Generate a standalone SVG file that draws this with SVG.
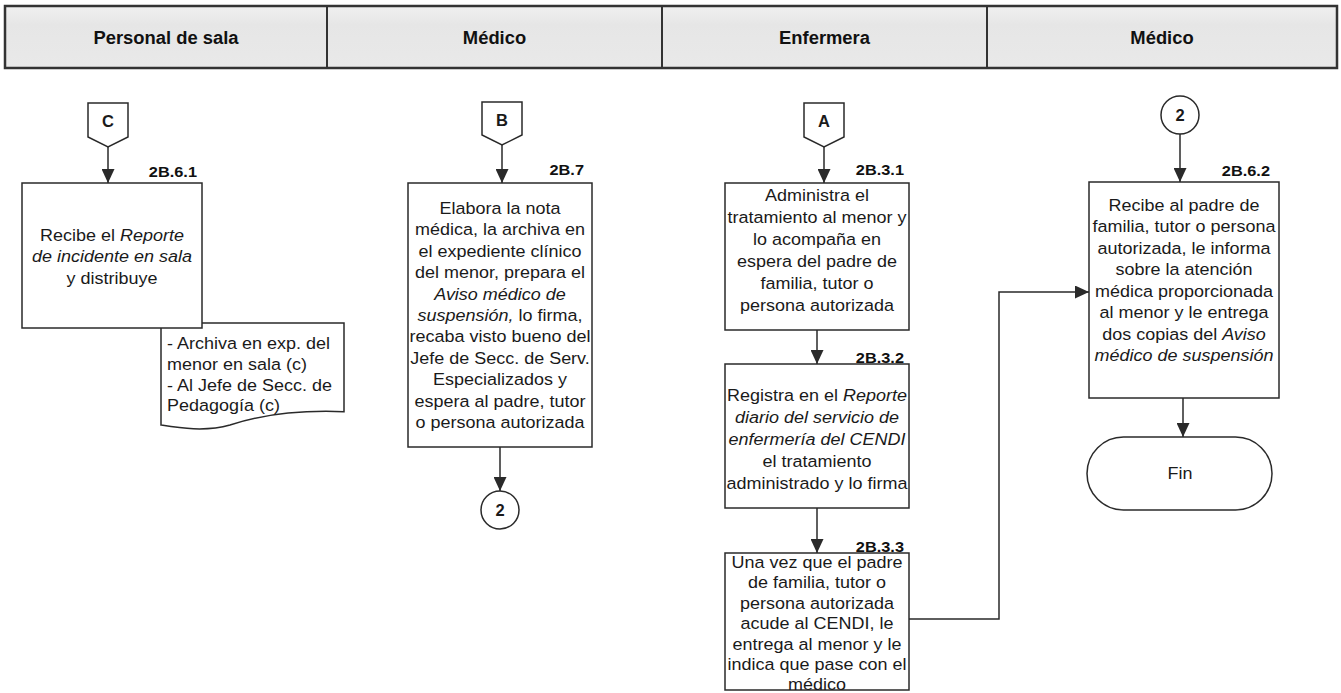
<svg xmlns="http://www.w3.org/2000/svg" width="1341" height="693" viewBox="0 0 1341 693">
<style>
.t{font-family:"Liberation Sans",Arial,sans-serif;font-size:16.5px;fill:#1a1a1a}
.b{font-weight:bold}
.i{font-style:italic}
.hd{font-family:"Liberation Sans",Arial,sans-serif;font-size:17.5px;font-weight:bold;fill:#111}
.lbl{font-family:"Liberation Sans",Arial,sans-serif;font-size:15px;font-weight:bold;fill:#111}
.box{fill:#fff;stroke:#2a2a2a;stroke-width:1.5}
.ln{fill:none;stroke:#2a2a2a;stroke-width:1.5}
</style>
<defs>
<linearGradient id="hg" x1="0" y1="0" x2="0" y2="1">
<stop offset="0" stop-color="#f0f0f0"/>
<stop offset="0.3" stop-color="#e6e6e6"/>
<stop offset="1" stop-color="#e9e9e9"/>
</linearGradient>
<marker id="ar" markerUnits="userSpaceOnUse" markerWidth="14" markerHeight="13" refX="14" refY="6.5" orient="auto">
<path d="M0,0 L14,6.5 L0,13 z" fill="#2a2a2a"/>
</marker>
</defs>
<rect width="1341" height="693" fill="#fff"/>
<g id="header">
<rect x="5" y="6" width="1332" height="62" fill="url(#hg)" stroke="#333" stroke-width="2.5"/>
<line x1="327" y1="6" x2="327" y2="68" stroke="#333" stroke-width="2"/>
<line x1="662" y1="6" x2="662" y2="68" stroke="#333" stroke-width="2"/>
<line x1="987" y1="6" x2="987" y2="68" stroke="#333" stroke-width="2"/>
<g transform="translate(166 0) scale(1.05 1)"><text class="hd" x="0" y="44" text-anchor="middle">Personal de sala</text></g>
<g transform="translate(494.5 0) scale(1.05 1)"><text class="hd" x="0" y="44" text-anchor="middle">Médico</text></g>
<g transform="translate(824.5 0) scale(1.05 1)"><text class="hd" x="0" y="44" text-anchor="middle">Enfermera</text></g>
<g transform="translate(1162 0) scale(1.05 1)"><text class="hd" x="0" y="44" text-anchor="middle">Médico</text></g>
</g>
<g id="connectors">
<line class="ln" x1="108" y1="147" x2="108" y2="183" marker-end="url(#ar)"/>
<line class="ln" x1="502" y1="145" x2="502" y2="183" marker-end="url(#ar)"/>
<line class="ln" x1="500" y1="447" x2="500" y2="491" marker-end="url(#ar)"/>
<line class="ln" x1="824" y1="147" x2="824" y2="183" marker-end="url(#ar)"/>
<line class="ln" x1="817" y1="330" x2="817" y2="364" marker-end="url(#ar)"/>
<line class="ln" x1="817" y1="508" x2="817" y2="553" marker-end="url(#ar)"/>
<path class="ln" d="M909,619 H999 V292 H1089" marker-end="url(#ar)"/>
<line class="ln" x1="1180" y1="134" x2="1180" y2="182" marker-end="url(#ar)"/>
<line class="ln" x1="1183" y1="398" x2="1183" y2="437" marker-end="url(#ar)"/>
</g>
<g id="connC">
<path class="box" d="M88,103 H128 V137 L108,147 L88,137 Z"/>
<text class="t b" x="108" y="127" text-anchor="middle" font-size="17">C</text>
</g>
<g id="doc261">
<path class="box" d="M161,323 H344 V411.7 C300,410 260,415 230,425 C205,432 180,428 161,425 Z"/>
<g transform="translate(167 0) scale(1.09 1)"><text class="t"><tspan x="0" y="349">- Archiva en exp. del</tspan><tspan x="0" y="370">menor en sala (c)</tspan><tspan x="0" y="391">- Al Jefe de Secc. de</tspan><tspan x="0" y="411.5">Pedagogía (c)</tspan></text></g>
</g>
<g id="n2B61">
<rect class="box" x="22" y="183" width="180" height="145"/>
<g transform="translate(197 0) scale(1.09 1)"><text class="lbl" x="0" y="177" text-anchor="end">2B.6.1</text></g>
<g transform="translate(112 0) scale(1.09 1)"><text class="t" text-anchor="middle"><tspan x="0" y="241">Recibe el <tspan class="i">Reporte</tspan></tspan><tspan x="0" y="262.5" class="i">de incidente en sala</tspan><tspan x="0" y="284">y distribuye</tspan></text></g>
</g>
<g id="connB">
<path class="box" d="M482,102 H522 V135 L502,145 L482,135 Z"/>
<text class="t b" x="502" y="126" text-anchor="middle" font-size="17">B</text>
</g>
<g id="n2B7">
<rect class="box" x="408" y="183" width="184" height="264"/>
<g transform="translate(584 0) scale(1.09 1)"><text class="lbl" x="0" y="175" text-anchor="end">2B.7</text></g>
<g transform="translate(500 0) scale(1.09 1)"><text class="t" text-anchor="middle"><tspan x="0" y="214">Elabora la nota</tspan><tspan x="0" y="235.4">médica, la archiva en</tspan><tspan x="0" y="256.8">el expediente clínico</tspan><tspan x="0" y="278.2">del menor, prepara el</tspan><tspan x="0" y="299.6" class="i">Aviso médico de</tspan><tspan x="0" y="321"><tspan class="i">suspensión,</tspan> lo firma,</tspan><tspan x="0" y="342.4">recaba visto bueno del</tspan><tspan x="0" y="363.8">Jefe de Secc. de Serv.</tspan><tspan x="0" y="385.2">Especializados y</tspan><tspan x="0" y="406.6">espera al padre, tutor</tspan><tspan x="0" y="428">o persona autorizada</tspan></text></g>
</g>
<g id="circ2a">
<circle class="box" cx="500" cy="510" r="19"/>
<text class="t b" x="500" y="516" text-anchor="middle" font-size="17">2</text>
</g>
<g id="connA">
<path class="box" d="M804,103 H844 V137 L824,147 L804,137 Z"/>
<text class="t b" x="824" y="127" text-anchor="middle" font-size="17">A</text>
</g>
<g id="n2B31">
<rect class="box" x="725" y="183" width="184" height="147"/>
<g transform="translate(904 0) scale(1.09 1)"><text class="lbl" x="0" y="175" text-anchor="end">2B.3.1</text></g>
<g transform="translate(817 0) scale(1.09 1)"><text class="t" text-anchor="middle"><tspan x="0" y="201">Administra el</tspan><tspan x="0" y="223">tratamiento al menor y</tspan><tspan x="0" y="245">lo acompaña en</tspan><tspan x="0" y="267">espera del padre de</tspan><tspan x="0" y="289">familia, tutor o</tspan><tspan x="0" y="311">persona autorizada</tspan></text></g>
</g>
<g id="n2B32">
<rect class="box" x="725" y="364" width="184" height="144"/>
<g transform="translate(904 0) scale(1.09 1)"><text class="lbl" x="0" y="363" text-anchor="end">2B.3.2</text></g>
<g transform="translate(817 0) scale(1.09 1)"><text class="t" text-anchor="middle"><tspan x="0" y="401">Registra en el <tspan class="i">Reporte</tspan></tspan><tspan x="0" y="423" class="i">diario del servicio de</tspan><tspan x="0" y="445" class="i">enfermería del CENDI</tspan><tspan x="0" y="467">el tratamiento</tspan><tspan x="0" y="489">administrado y lo firma</tspan></text></g>
</g>
<g id="n2B33">
<rect class="box" x="725" y="553" width="184" height="137"/>
<g transform="translate(904 0) scale(1.09 1)"><text class="lbl" x="0" y="552" text-anchor="end">2B.3.3</text></g>
<g transform="translate(817 0) scale(1.09 1)"><text class="t" text-anchor="middle"><tspan x="0" y="568">Una vez que el padre</tspan><tspan x="0" y="588.5">de familia, tutor o</tspan><tspan x="0" y="609">persona autorizada</tspan><tspan x="0" y="629.5">acude al CENDI, le</tspan><tspan x="0" y="650">entrega al menor y le</tspan><tspan x="0" y="670.5">indica que pase con el</tspan><tspan x="0" y="690.5">médico</tspan></text></g>
</g>
<g id="circ2b">
<circle class="box" cx="1180" cy="115" r="19"/>
<text class="t b" x="1180" y="121" text-anchor="middle" font-size="17">2</text>
</g>
<g id="n2B62">
<rect class="box" x="1089" y="182" width="190" height="216"/>
<g transform="translate(1270 0) scale(1.09 1)"><text class="lbl" x="0" y="176" text-anchor="end">2B.6.2</text></g>
<g transform="translate(1184 0) scale(1.09 1)"><text class="t" text-anchor="middle"><tspan x="0" y="211">Recibe al padre de</tspan><tspan x="0" y="232.5">familia, tutor o persona</tspan><tspan x="0" y="254">autorizada, le informa</tspan><tspan x="0" y="275.5">sobre la atención</tspan><tspan x="0" y="297">médica proporcionada</tspan><tspan x="0" y="318.5">al menor y le entrega</tspan><tspan x="0" y="340">dos copias del <tspan class="i">Aviso</tspan></tspan><tspan x="0" y="361.5" class="i">médico de suspensión</tspan></text></g>
</g>
<g id="fin">
<rect class="box" x="1087" y="437" width="185" height="73" rx="36.5"/>
<g transform="translate(1180 0) scale(1.09 1)"><text class="t" x="0" y="479" text-anchor="middle">Fin</text></g>
</g>
</svg>
